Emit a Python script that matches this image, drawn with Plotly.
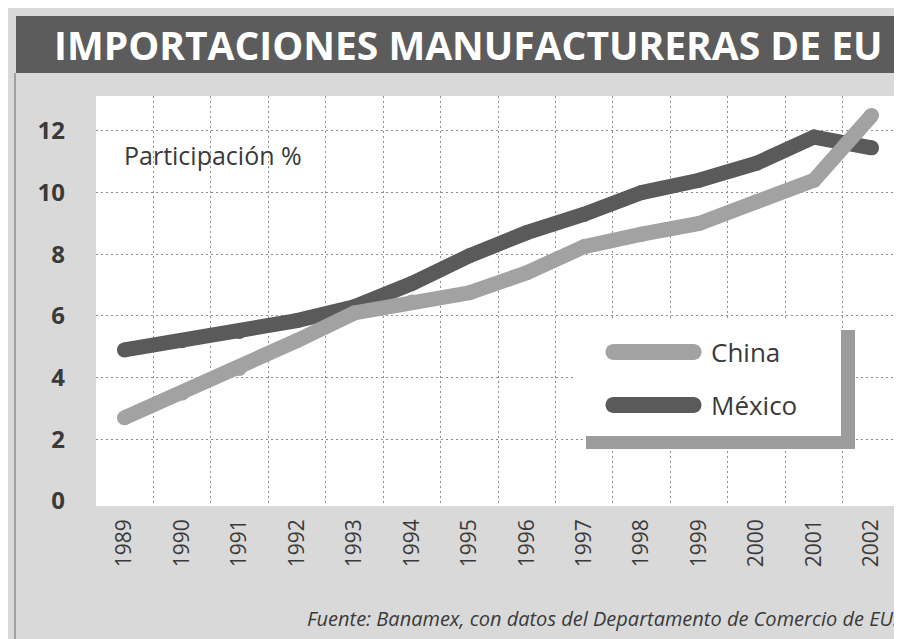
import plotly.graph_objects as go

# datos (participación %, importaciones manufactureras de EU)
years = [1989, 1990, 1991, 1992, 1993, 1994, 1995, 1996, 1997, 1998, 1999, 2000, 2001, 2002]
china = [2.7, 3.5, 4.3, 5.2, 6.1, 6.45, 6.75, 7.4, 8.25, 8.65, 9.0, 9.7, 10.4, 12.5]
mexico = [4.9, 5.2, 5.5, 5.85, 6.3, 7.05, 7.95, 8.7, 9.3, 10.0, 10.4, 10.95, 11.8, 11.45]
y_ticks = [0, 2, 4, 6, 8, 10, 12]
series_names = ["China", "México"]

colors = {
    'china': '#a2a2a2',
    'mexico': '#5a5a5a',
    'bar': '#5c5c5c',
    'paper': '#d9d9d9',
    'text': '#3a3a3a',
    'grid': '#8e8e8e',
}
FONT = "Open Sans"

# geometría del área de trazado (px)
L, T, W, H = 88, 88, 804, 410


def px(x):
    return (x - L) / W


def py(y):
    return (T + H - y) / H


def pill(w, h):
    """forma redondeada (muestra de leyenda), centrada en el ancla"""
    r = h / 2
    a = w / 2 - r
    k = 0.5523 * r
    return (f"M{-a},{-r} L{a},{-r} C{a + k},{-r} {a + r},{-k} {a + r},0 "
            f"C{a + r},{k} {a + k},{r} {a},{r} L{-a},{r} "
            f"C{-a - k},{r} {-a - r},{k} {-a - r},0 C{-a - r},{-k} {-a - k},{-r} {-a},{-r} Z")


fig = go.Figure()

for name, vals, col in [(series_names[1], mexico, colors['mexico']),
                        (series_names[0], china, colors['china'])]:
    fig.add_trace(go.Scatter(
        x=years, y=vals, name=name,
        mode='lines+markers',
        line=dict(color=col, width=15),
        marker=dict(size=15, color=col, line=dict(width=0)),
        showlegend=False,
        hovertemplate=name + " %{x}: %{y}%<extra></extra>"
    ))

shapes = [
    # barra del título
    dict(type='rect', xref='paper', yref='paper', x0=px(8), x1=px(902), y0=py(65), y1=py(8),
         fillcolor=colors['bar'], line=dict(width=0), layer='above'),
    # borde izquierdo
    dict(type='line', xref='paper', yref='paper', x0=px(7), x1=px(7), y0=py(65), y1=py(639),
         line=dict(color='#6a6a6a', width=1), layer='above'),
    # sombra y caja de la leyenda
    dict(type='rect', xref='paper', yref='paper', x0=px(578), x1=px(847), y0=py(441), y1=py(322),
         fillcolor='#9c9c9c', line=dict(width=0), layer='above'),
    dict(type='rect', xref='paper', yref='paper', x0=px(568), x1=px(833), y0=py(428), y1=py(312),
         fillcolor='white', line=dict(width=0), layer='above'),
]
for cy, col in [(344, colors['china']), (397, colors['mexico'])]:
    shapes.append(dict(type='path', xref='paper', yref='paper',
                       xsizemode='pixel', ysizemode='pixel',
                       xanchor=px(645.5), yanchor=py(cy),
                       path=pill(96, 16), fillcolor=col,
                       line=dict(width=0), layer='above'))

annotations = [
    dict(text="IMPORTACIONES MANUFACTURERAS DE EU", xref='paper', yref='paper',
         x=px(460), y=py(37), xanchor='center', yanchor='middle', showarrow=False,
         font=dict(family=FONT, size=39, color='white', weight=700)),
    dict(text="Participación %", xref='paper', yref='paper',
         x=px(114), y=py(147), xanchor='left', yanchor='middle', showarrow=False,
         font=dict(family=FONT, size=25, color=colors['text'])),
    dict(text=series_names[0], xref='paper', yref='paper',
         x=px(701), y=py(344), xanchor='left', yanchor='middle', showarrow=False,
         font=dict(family=FONT, size=26, color=colors['text'])),
    dict(text=series_names[1], xref='paper', yref='paper',
         x=px(701), y=py(397), xanchor='left', yanchor='middle', showarrow=False,
         font=dict(family=FONT, size=26, color=colors['text'])),
    dict(text="Fuente: Banamex, con datos del Departamento de Comercio de EU.",
         xref='paper', yref='paper', x=px(892), y=py(610), xanchor='right', yanchor='middle',
         showarrow=False, font=dict(family=FONT, size=20, color=colors['text'], style='italic')),
]

grid = dict(showgrid=True, gridcolor=colors['grid'], griddash='2px,3px', gridwidth=1, ticks='')

fig.update_layout(
    width=902, height=639, autosize=False,
    margin=dict(l=L, r=902 - L - W, t=T, b=639 - T - H),
    paper_bgcolor=colors['paper'],
    plot_bgcolor='white',
    font=dict(family=FONT, color=colors['text']),
    showlegend=False,
    xaxis=dict(
        range=[1988.505, 2002.495],
        tickmode='array', tickvals=years, ticktext=[str(y) for y in years],
        tickangle=-90, tickfont=dict(size=21, color=colors['text']),
        ticks='', ticklabelstandoff=8,
        showgrid=False, zeroline=False, showline=False,
        minor=dict(tickmode='linear', tick0=1989.5, dtick=1, **grid),
    ),
    yaxis=dict(
        range=[-0.16, 13.13],
        tickmode='array', tickvals=y_ticks,
        tickfont=dict(size=24, color=colors['text'], weight=700),
        ticklabelstandoff=30, ticks='',
        showgrid=False, zeroline=False, showline=False,
        # rejilla horizontal sin la línea del 0
        minor=dict(tickmode='array', tickvals=[v + 0.004 for v in y_ticks[1:]], **grid),
    ),
    shapes=shapes,
    annotations=annotations,
)

fig.write_html("out.html")
